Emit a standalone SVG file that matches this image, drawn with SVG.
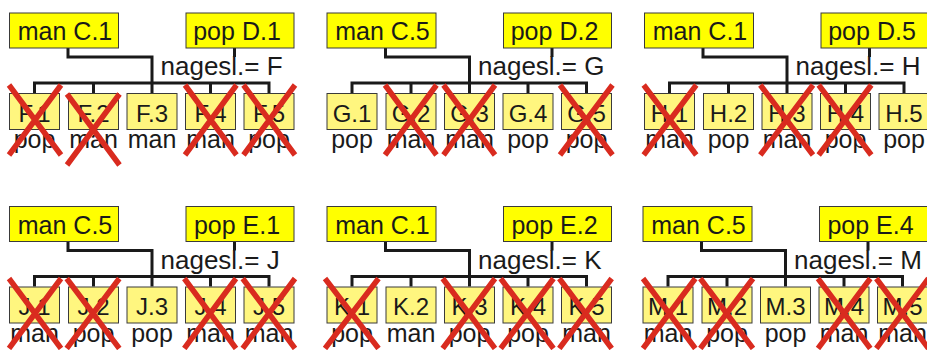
<svg xmlns="http://www.w3.org/2000/svg" width="927" height="350" viewBox="0 0 927 350">
<style>
  text { font-family: "Liberation Sans", Arial, sans-serif; fill: #1a1a1a; }
  .parent { fill: #ffff00; stroke: #3a3a3a; stroke-width: 1; }
  .child { fill: #fff67f; stroke: #3a3a3a; stroke-width: 1; }
  .pt { font-size: 25px; text-anchor: middle; }
  .ct { font-size: 24px; text-anchor: middle; }
  .st { font-size: 25px; text-anchor: middle; }
  .lbl { font-size: 26px; }
  .connectors path { fill: none; stroke: #1a1a1a; stroke-width: 3; stroke-linejoin: miter; }
  .cross path { fill: none; stroke: #d92b1f; stroke-width: 5.5; }
</style>
<rect width="927" height="350" fill="#ffffff"/>

<!-- Panel F -->
<g id="panel-F" transform="translate(0,0)">
  <g class="connectors" id="F-connectors">
    <path d="M68,48V57H152V93 M234.5,48V57 M34.5,93V83H269V93 M93.5,83V93 M210.5,83V93"/>
  </g>
  <g id="F-man"><rect class="parent" x="9.5" y="13" width="109" height="35"/><text class="pt" x="65" y="40">man C.1</text></g>
  <g id="F-pop"><rect class="parent" x="186" y="13" width="108" height="35"/><text class="pt" x="237" y="40">pop D.1</text></g>
  <text class="lbl" x="160.5" y="75">nagesl.= F</text>
  <g id="F1"><rect class="child" x="9.5" y="93.5" width="50" height="36"/><text class="ct" x="34.5" y="121.5">F.1</text><text class="st" x="34.5" y="148">pop</text></g>
  <g id="F2"><rect class="child" x="68.5" y="93.5" width="50" height="36"/><text class="ct" x="93.5" y="121.5">F.2</text><text class="st" x="93.5" y="148">man</text></g>
  <g id="F3"><rect class="child" x="127" y="93.5" width="50" height="36"/><text class="ct" x="152" y="121.5">F.3</text><text class="st" x="152" y="148">man</text></g>
  <g id="F4"><rect class="child" x="185.5" y="93.5" width="50" height="36"/><text class="ct" x="210.5" y="121.5">F.4</text><text class="st" x="210.5" y="148">man</text></g>
  <g id="F5"><rect class="child" x="244" y="93.5" width="50" height="36"/><text class="ct" x="269" y="121.5">F.5</text><text class="st" x="269" y="148">pop</text></g>
  <g class="cross">
    <path d="M9,85L61,155M61,85L9,155"/>
    <path d="M67,94L119.5,165M119.5,94L67,165"/>
    <path d="M185,85L236.5,155M236.5,85L185,155"/>
    <path d="M243.5,85L295,155M295,85L243.5,155"/>
  </g>
</g>

<!-- Panel G -->
<g id="panel-G" transform="translate(317.5,0)">
  <g class="connectors" id="G-connectors">
    <path d="M68,48V57H152V93 M234.5,48V57 M34.5,93V83H269V93 M93.5,83V93 M210.5,83V93"/>
  </g>
  <g id="G-man"><rect class="parent" x="9.5" y="13" width="109" height="35"/><text class="pt" x="65" y="40">man C.5</text></g>
  <g id="G-pop"><rect class="parent" x="186" y="13" width="108" height="35"/><text class="pt" x="237" y="40">pop D.2</text></g>
  <text class="lbl" x="160.5" y="75">nagesl.= G</text>
  <g id="G1"><rect class="child" x="9.5" y="93.5" width="50" height="36"/><text class="ct" x="34.5" y="121.5">G.1</text><text class="st" x="34.5" y="148">pop</text></g>
  <g id="G2"><rect class="child" x="68.5" y="93.5" width="50" height="36"/><text class="ct" x="93.5" y="121.5">G.2</text><text class="st" x="93.5" y="148">man</text></g>
  <g id="G3"><rect class="child" x="127" y="93.5" width="50" height="36"/><text class="ct" x="152" y="121.5">G.3</text><text class="st" x="152" y="148">man</text></g>
  <g id="G4"><rect class="child" x="185.5" y="93.5" width="50" height="36"/><text class="ct" x="210.5" y="121.5">G.4</text><text class="st" x="210.5" y="148">pop</text></g>
  <g id="G5"><rect class="child" x="244" y="93.5" width="50" height="36"/><text class="ct" x="269" y="121.5">G.5</text><text class="st" x="269" y="148">pop</text></g>
  <g class="cross">
    <path d="M67.5,85L119,155M119,85L67.5,155"/>
    <path d="M126,85L177.5,155M177.5,85L126,155"/>
    <path d="M242.5,85L295,155M295,85L242.5,155"/>
  </g>
</g>

<!-- Panel H -->
<g id="panel-H" transform="translate(635,0)">
  <g class="connectors" id="H-connectors">
    <path d="M68,48V57H152V93 M234.5,48V57 M34.5,93V83H269V93 M93.5,83V93 M210.5,83V93"/>
  </g>
  <g id="H-man"><rect class="parent" x="9.5" y="13" width="109" height="35"/><text class="pt" x="65" y="40">man C.1</text></g>
  <g id="H-pop"><rect class="parent" x="186" y="13" width="108" height="35"/><text class="pt" x="237" y="40">pop D.5</text></g>
  <text class="lbl" x="160.5" y="75">nagesl.= H</text>
  <g id="H1"><rect class="child" x="9.5" y="93.5" width="50" height="36"/><text class="ct" x="34.5" y="121.5">H.1</text><text class="st" x="34.5" y="148">man</text></g>
  <g id="H2"><rect class="child" x="68.5" y="93.5" width="50" height="36"/><text class="ct" x="93.5" y="121.5">H.2</text><text class="st" x="93.5" y="148">pop</text></g>
  <g id="H3"><rect class="child" x="127" y="93.5" width="50" height="36"/><text class="ct" x="152" y="121.5">H.3</text><text class="st" x="152" y="148">man</text></g>
  <g id="H4"><rect class="child" x="185.5" y="93.5" width="50" height="36"/><text class="ct" x="210.5" y="121.5">H.4</text><text class="st" x="210.5" y="148">pop</text></g>
  <g id="H5"><rect class="child" x="244" y="93.5" width="50" height="36"/><text class="ct" x="269" y="121.5">H.5</text><text class="st" x="269" y="148">pop</text></g>
  <g class="cross">
    <path d="M8.7,85L61.3,155M61.3,85L8.7,155"/>
    <path d="M125.3,85L178,155M178,85L125.3,155"/>
    <path d="M183.7,85L236.3,155M236.3,85L183.7,155"/>
  </g>
</g>

<!-- Panel J -->
<g id="panel-J" transform="translate(0,193.5)">
  <g class="connectors" id="J-connectors">
    <path d="M68,48V57H152V93 M234.5,48V57 M34.5,93V83H269V93 M93.5,83V93 M210.5,83V93"/>
  </g>
  <g id="J-man"><rect class="parent" x="9.5" y="13" width="109" height="35"/><text class="pt" x="65" y="40">man C.5</text></g>
  <g id="J-pop"><rect class="parent" x="186" y="13" width="108" height="35"/><text class="pt" x="237" y="40">pop E.1</text></g>
  <text class="lbl" x="160.5" y="75">nagesl.= J</text>
  <g id="J1"><rect class="child" x="9.5" y="93.5" width="50" height="36"/><text class="ct" x="34.5" y="121.5">J.1</text><text class="st" x="34.5" y="148">man</text></g>
  <g id="J2"><rect class="child" x="68.5" y="93.5" width="50" height="36"/><text class="ct" x="93.5" y="121.5">J.2</text><text class="st" x="93.5" y="148">pop</text></g>
  <g id="J3"><rect class="child" x="127" y="93.5" width="50" height="36"/><text class="ct" x="152" y="121.5">J.3</text><text class="st" x="152" y="148">pop</text></g>
  <g id="J4"><rect class="child" x="185.5" y="93.5" width="50" height="36"/><text class="ct" x="210.5" y="121.5">J.4</text><text class="st" x="210.5" y="148">man</text></g>
  <g id="J5"><rect class="child" x="244" y="93.5" width="50" height="36"/><text class="ct" x="269" y="121.5">J.5</text><text class="st" x="269" y="148">man</text></g>
  <g class="cross">
    <path d="M9,85L61,155M61,85L9,155"/>
    <path d="M66.7,85L119.3,155M119.3,85L66.7,155"/>
    <path d="M184.3,85L236,155M236,85L184.3,155"/>
    <path d="M242.7,85L295,155M295,85L242.7,155"/>
  </g>
</g>

<!-- Panel K -->
<g id="panel-K" transform="translate(317.5,193.5)">
  <g class="connectors" id="K-connectors">
    <path d="M68,48V57H152V93 M234.5,48V57 M34.5,93V83H269V93 M93.5,83V93 M210.5,83V93"/>
  </g>
  <g id="K-man"><rect class="parent" x="9.5" y="13" width="109" height="35"/><text class="pt" x="65" y="40">man C.1</text></g>
  <g id="K-pop"><rect class="parent" x="186" y="13" width="108" height="35"/><text class="pt" x="237" y="40">pop E.2</text></g>
  <text class="lbl" x="160.5" y="75">nagesl.= K</text>
  <g id="K1"><rect class="child" x="9.5" y="93.5" width="50" height="36"/><text class="ct" x="34.5" y="121.5">K.1</text><text class="st" x="34.5" y="148">pop</text></g>
  <g id="K2"><rect class="child" x="68.5" y="93.5" width="50" height="36"/><text class="ct" x="93.5" y="121.5">K.2</text><text class="st" x="93.5" y="148">man</text></g>
  <g id="K3"><rect class="child" x="127" y="93.5" width="50" height="36"/><text class="ct" x="152" y="121.5">K.3</text><text class="st" x="152" y="148">pop</text></g>
  <g id="K4"><rect class="child" x="185.5" y="93.5" width="50" height="36"/><text class="ct" x="210.5" y="121.5">K.4</text><text class="st" x="210.5" y="148">pop</text></g>
  <g id="K5"><rect class="child" x="244" y="93.5" width="50" height="36"/><text class="ct" x="269" y="121.5">K.5</text><text class="st" x="269" y="148">man</text></g>
  <g class="cross">
    <path d="M7.5,85L61,155M61,85L7.5,155"/>
    <path d="M125.2,85L177.5,155M177.5,85L125.2,155"/>
    <path d="M183.2,85L236,155M236,85L183.2,155"/>
    <path d="M241.8,85L294.2,155M294.2,85L241.8,155"/>
  </g>
</g>

<!-- Panel M -->
<g id="panel-M" transform="translate(633.5,193.5)">
  <g class="connectors" id="M-connectors">
    <path d="M68,48V57H152V93 M234.5,48V57 M34.5,93V83H269V93 M93.5,83V93 M210.5,83V93"/>
  </g>
  <g id="M-man"><rect class="parent" x="9.5" y="13" width="109" height="35"/><text class="pt" x="65" y="40">man C.5</text></g>
  <g id="M-pop"><rect class="parent" x="186" y="13" width="108" height="35"/><text class="pt" x="237" y="40">pop E.4</text></g>
  <text class="lbl" x="160.5" y="75">nagesl.= M</text>
  <g id="M1"><rect class="child" x="9.5" y="93.5" width="50" height="36"/><text class="ct" x="34.5" y="121.5">M.1</text><text class="st" x="34.5" y="148">man</text></g>
  <g id="M2"><rect class="child" x="68.5" y="93.5" width="50" height="36"/><text class="ct" x="93.5" y="121.5">M.2</text><text class="st" x="93.5" y="148">pop</text></g>
  <g id="M3"><rect class="child" x="127" y="93.5" width="50" height="36"/><text class="ct" x="152" y="121.5">M.3</text><text class="st" x="152" y="148">pop</text></g>
  <g id="M4"><rect class="child" x="185.5" y="93.5" width="50" height="36"/><text class="ct" x="210.5" y="121.5">M.4</text><text class="st" x="210.5" y="148">man</text></g>
  <g id="M5"><rect class="child" x="244" y="93.5" width="50" height="36"/><text class="ct" x="269" y="121.5">M.5</text><text class="st" x="269" y="148">man</text></g>
  <g class="cross">
    <path d="M9.5,85L61.8,155M61.8,85L9.5,155"/>
    <path d="M66.8,85L119.5,155M119.5,85L66.8,155"/>
    <path d="M184.5,85L236.8,155M236.8,85L184.5,155"/>
    <path d="M242.8,85L295,155M295,85L242.8,155"/>
  </g>
</g>
</svg>
